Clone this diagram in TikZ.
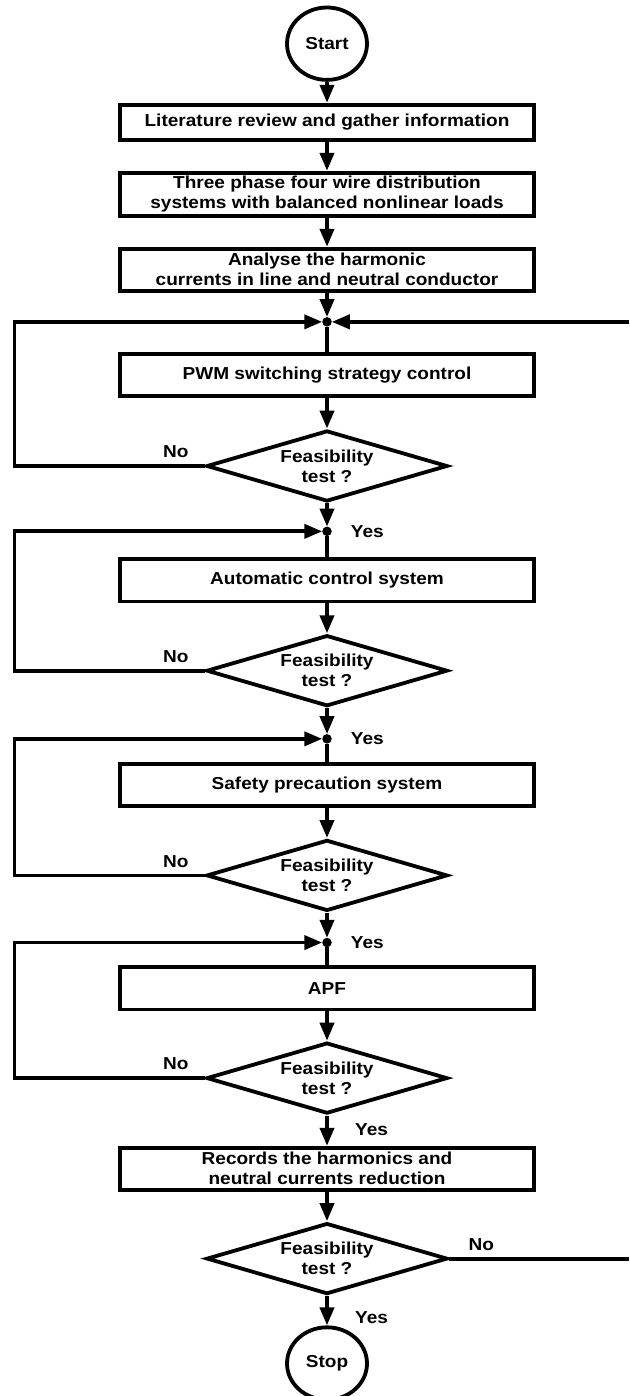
\documentclass[tikz,border=0pt]{standalone}
\usepackage{fontspec}
\setmainfont[FakeStretch=1.1]{Liberation Sans}
\usepackage{tikz}
\usetikzlibrary{arrows.meta, shapes.geometric}
\usetikzlibrary{positioning}
\tikzstyle{process_box} = [
    rectangle,
    draw=black,
    line width=3.8pt,
    align=center,
    inner sep=2pt,
    minimum width=414pt,
    minimum height=42.2pt
]
\tikzstyle{decision} = [
    diamond,
    draw=black,
    line width=3.8pt,
    align=center,
    inner sep=0pt,
    aspect=3.2, % wide and flat
    minimum width=241pt,
    minimum height=71pt
]
\tikzstyle{terminal} = [
    ellipse,
    draw=black,
    line width=3.8pt,
    inner sep=0pt,
    minimum width=80pt,
    minimum height=72.4pt
]
\tikzstyle{junction} = [
    circle,
    fill=black,
    inner sep=0pt,
    outer sep=0pt,
    minimum size=9.5pt
]
\tikzstyle{answer} = [
    inner sep=0pt
]
\tikzstyle{flow} = [
    line width=3.8pt,
    -{Triangle[length=18pt, width=14pt]}
]
\tikzstyle{wire} = [
    line width=3.8pt
]

\begin{document}
\begin{tikzpicture}[
    x=1pt, y=-1pt,
    font=\fontsize{17.3}{20}\selectfont\bfseries
]
\useasboundingbox (0,0) rectangle (629,1396);
\coordinate (loop_x) at (14.5,0);
\coordinate (edge_x) at (629,0);

\node [terminal] (start) at (327,43.7) {Start};
\node [process_box, minimum height=35.2pt, below=21pt of start] (lit)
    {Literature review and gather information};
\node [process_box, minimum height=43.2pt, below=29pt of lit] (three)
    {Three phase four wire distribution\\systems with balanced nonlinear loads};
\node [process_box, below=29pt of three] (analyse)
    {Analyse the harmonic\\currents in line and neutral conductor};
\node [junction, below=24.3pt of analyse] (j1) {};
\node [process_box, below=25.3pt of j1] (pwm) {PWM switching strategy control};
\node [decision, below=30.7pt of pwm] (d1) {Feasibility\\test ?};
\node [junction, below=23.2pt of d1] (j2) {};
\node [process_box, below=21.2pt of j2] (auto) {Automatic control system};
\node [decision, below=30pt of auto] (d2) {Feasibility\\test ?};
\node [junction, below=26pt of d2] (j3) {};
\node [process_box, below=18.4pt of j3] (safety) {Safety precaution system};
\node [decision, below=30pt of safety] (d3) {Feasibility\\test ?};
\node [junction, below=25pt of d3] (j4) {};
\node [process_box, below=18.1pt of j4] (apf) {APF};
\node [decision, below=29.3pt of apf] (d4) {Feasibility\\test ?};
\node [process_box, below=30.3pt of d4] (records)
    {Records the harmonics and\\neutral currents reduction};
\node [decision, below=29.4pt of records] (d5) {Feasibility\\test ?};
\node [terminal, below=29.4pt of d5] (stop) {Stop};

% main line
\draw [flow] (start) -- (lit);
\draw [flow] (lit) -- (three);
\draw [flow] (three) -- (analyse);
\draw [flow] (analyse) -- (j1);
\draw [wire] (j1) -- (pwm);
\draw [flow] (pwm) -- (d1);
\draw [flow] (d1) -- (j2);
\draw [wire] (j2) -- (auto);
\draw [flow] (auto) -- (d2);
\draw [flow] (d2) -- (j3);
\draw [wire] (j3) -- (safety);
\draw [flow] (safety) -- (d3);
\draw [flow] (d3) -- (j4);
\draw [wire] (j4) -- (apf);
\draw [flow] (apf) -- (d4);
\draw [flow] (d4) -- (records);
\draw [flow] (records) -- (d5);
\draw [flow] (d5) -- (stop);

% loops back
\draw [flow] (d1.west) -- (d1.west -| loop_x) |- (j1);
\draw [flow] (d2.west) -- (d2.west -| loop_x) |- (j2);
\draw [flow] (d3.west) -- (d3.west -| loop_x) |- (j3);
\draw [flow] (d4.west) -- (d4.west -| loop_x) |- (j4);
\draw [wire] (d5.east) -- (d5.east -| edge_x);
\draw [flow] (j1 -| edge_x) -- (j1);

\node [answer, above left=8pt and 16pt of d1.west] (no1) {No};
\node [answer, above left=8pt and 16pt of d2.west] (no2) {No};
\node [answer, above left=8pt and 16pt of d3.west] (no3) {No};
\node [answer, above left=8pt and 16pt of d4.west] (no4) {No};
\node [answer, above right=8pt and 19pt of d5.east] (no5) {No};
\node [answer, right=19pt of j2] (yes1) {Yes};
\node [answer, right=19pt of j3] (yes2) {Yes};
\node [answer, right=19pt of j4] (yes3) {Yes};
\node [answer, below right=8pt and 28pt of d4.south] (yes4) {Yes};
\node [answer, below right=15.5pt and 28pt of d5.south] (yes5) {Yes};
\end{tikzpicture}
\end{document}
